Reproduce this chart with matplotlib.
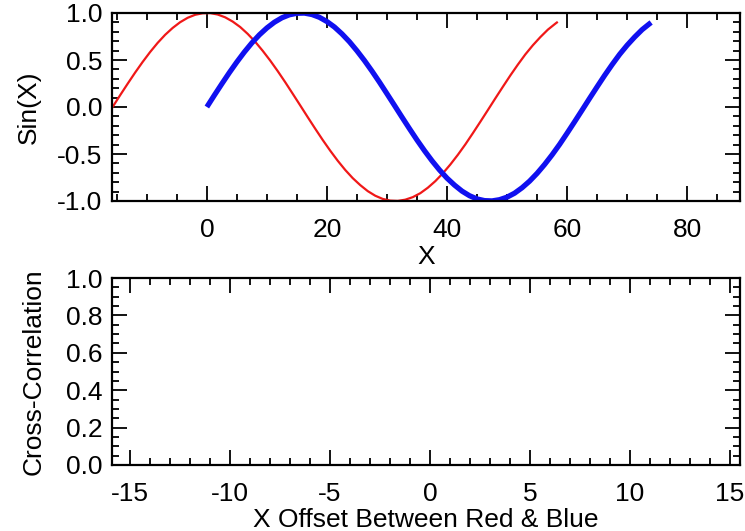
import matplotlib
matplotlib.use("Agg")
import matplotlib.pyplot as plt
from matplotlib.ticker import MultipleLocator

# sine wave (blue), red is the same wave shifted left
wave_x = [0, 1.25, 2.5, 3.75, 5, 6.25, 7.5, 8.75, 10, 11.25, 12.5, 13.75, 15, 16.25,
          17.5, 18.75, 20, 21.25, 22.5, 23.75, 25, 26.25, 27.5, 28.75, 30, 31.25, 32.5,
          33.75, 35, 36.25, 37.5, 38.75, 40, 41.25, 42.5, 43.75, 45, 46.25, 47.5, 48.75,
          50, 51.25, 52.5, 53.75, 55, 56.25, 57.5, 58.75, 60, 61.25, 62.5, 63.75, 65,
          66.25, 67.5, 68.75, 70, 71.25, 72.5, 73.75, 74]
wave_y = [0.000, 0.125, 0.247, 0.366, 0.479, 0.585, 0.682, 0.768, 0.841, 0.902, 0.949,
          0.981, 0.997, 0.999, 0.984, 0.954, 0.909, 0.851, 0.778, 0.694, 0.598, 0.494,
          0.382, 0.264, 0.141, 0.017, -0.108, -0.231, -0.351, -0.465, -0.572, -0.670,
          -0.757, -0.831, -0.895, -0.944, -0.978, -0.996, -0.999, -0.986, -0.959, -0.917,
          -0.859, -0.789, -0.706, -0.612, -0.509, -0.398, -0.279, -0.157, -0.033, 0.092,
          0.215, 0.336, 0.451, 0.560, 0.657, 0.744, 0.823, 0.887, 0.899]
red_shift = -15.7

top_xticks = [0, 20, 40, 60, 80]
top_yticks = [-1.0, -0.5, 0.0, 0.5, 1.0]
bot_xticks = [-15, -10, -5, 0, 5, 10, 15]
bot_yticks = [0.0, 0.2, 0.4, 0.6, 0.8, 1.0]

plt.rcParams["font.family"] = ["Liberation Sans", "DejaVu Sans"]
plt.rcParams["font.size"] = 19
plt.rcParams["axes.unicode_minus"] = False

W, H = 745, 531
fig = plt.figure(figsize=(W / 100, H / 100), dpi=100)


def box(l, t, r, b):
    return [l / W, 1 - b / H, (r - l) / W, (b - t) / H]


def style(ax, xminor, yminor):
    for s in ax.spines.values():
        s.set_linewidth(1.6)
    ax.xaxis.set_minor_locator(MultipleLocator(xminor))
    ax.yaxis.set_minor_locator(MultipleLocator(yminor))
    ax.tick_params(which="both", direction="in", top=True, right=True, width=1.3)
    ax.tick_params(which="major", length=11)
    ax.tick_params(which="minor", length=5)
    ax.tick_params(axis="x", which="major", pad=12)
    ax.tick_params(axis="y", which="major", pad=7)


ax1 = fig.add_axes(box(112, 13, 740, 201))
ax1.plot([x + red_shift for x in wave_x], wave_y, color="#f01818", linewidth=1.6)
ax1.plot(wave_x, wave_y, color="#1010f0", linewidth=3.8, solid_capstyle="butt")
ax1.set_xlim(-15.8, 88.8)
ax1.set_ylim(-1.0, 1.0)
ax1.set_xticks(top_xticks)
ax1.set_yticks(top_yticks)
ax1.set_yticklabels([f"{v:.1f}" for v in top_yticks])
style(ax1, 5, 0.1)
ax1.set_xlabel("X")
ax1.set_ylabel("Sin(X)")
ax1.xaxis.set_label_coords(0.5, -0.235)
ax1.yaxis.set_label_coords(-0.113, 0.5)

ax2 = fig.add_axes(box(112, 278, 740, 465))
ax2.set_xlim(-15.9, 15.5)
ax2.set_ylim(0.0, 1.0)
ax2.set_xticks(bot_xticks)
ax2.set_yticks(bot_yticks)
ax2.set_yticklabels([f"{v:.1f}" for v in bot_yticks])
style(ax2, 1, 0.05)
ax2.set_xlabel("X Offset Between Red & Blue")
ax2.set_ylabel("Cross-Correlation")
ax2.xaxis.set_label_coords(0.5, -0.228)
ax2.yaxis.set_label_coords(-0.105, 0.5)

fig.savefig("out.png", dpi=100)
